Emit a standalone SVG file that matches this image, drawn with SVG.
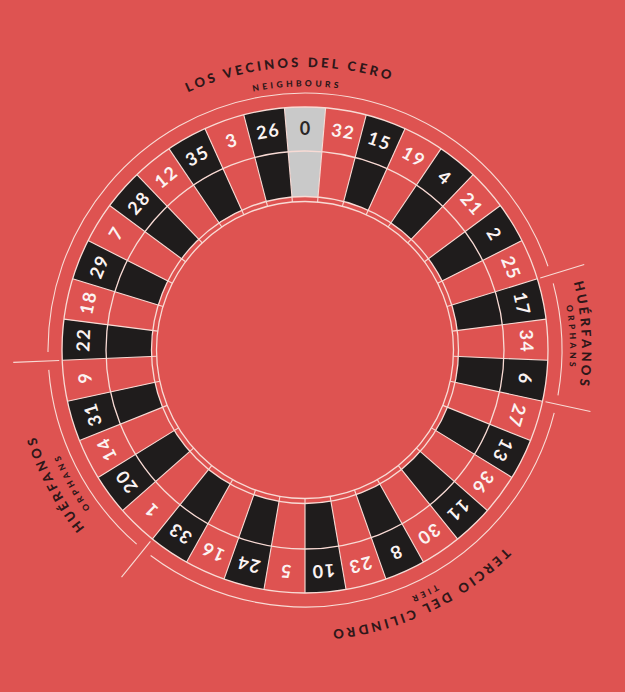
<svg xmlns="http://www.w3.org/2000/svg" width="625" height="692" viewBox="0 0 625 692">
<style>
.bg{fill:#de5351}
.red{fill:#de5351}
.blk{fill:#1f1c1c}
.zero{fill:#c9c9c9}
.ln{fill:none;stroke:#f8dbd5;stroke-width:1.3}
.thin{fill:none;stroke:#f8dbd5;stroke-width:1.1}
.num{font-family:Lato,"Open Sans",sans-serif;font-weight:700;font-size:18px;letter-spacing:1.5px;text-anchor:middle;fill:#fbf3f2}
.dark{fill:#2a2626}
.lbl{font-family:Lato,"Open Sans",sans-serif;font-weight:900;font-size:13px;letter-spacing:3.1px;fill:#2e1719}
.sub{font-size:8.5px;letter-spacing:3.3px}
</style>
<defs>
<path id="po" d="M284.39,107.87 A243,243 0 0 1 325.61,107.87 L321.88,151.72 A199,199 0 0 0 288.12,151.72 Z"/>
<path id="pi" d="M288.12,151.72 A199,199 0 0 1 321.88,151.72 L318.02,197.05 A153.5,153.5 0 0 0 291.98,197.05 Z"/>
<line id="sep" x1="317.59" y1="202.03" x2="325.61" y2="107.87"/>
<path id="a1" d="M22.44,365.80 A283,283 0 0 1 587.56,334.20"/>
<path id="a2" d="M40.12,357.86 A265,265 0 0 1 569.88,342.14"/>
<path id="a3" d="M290.02,73.40 A277,277 0 0 1 319.98,626.60"/>
<path id="a4" d="M292.52,85.29 A265,265 0 0 1 317.48,614.71"/>
<path id="a5" d="M438.30,599.64 A283,283 0 0 1 171.70,100.36"/>
<path id="a6" d="M436.48,582.39 A267,267 0 0 1 173.52,117.61"/>
<path id="a7" d="M560.61,229.72 A282.5,282.5 0 0 1 49.39,470.28"/>
<path id="a8" d="M547.67,231.64 A270,270 0 0 1 62.33,468.36"/>
</defs>
<rect class="bg" x="0" y="0" width="625" height="692"/>
<g id="wheel">
<g id="p0"><use href="#po" class="zero"/><use href="#pi" class="zero"/><text class="num dark" x="305.75" y="134.5">0</text></g>
<g id="p32" transform="rotate(9.7297 305 350)"><use href="#po" class="red"/><use href="#pi" class="red"/><text class="num" x="305.75" y="134.5">32</text></g>
<g id="p15" transform="rotate(19.4595 305 350)"><use href="#po" class="blk"/><use href="#pi" class="blk"/><text class="num" x="305.75" y="134.5">15</text></g>
<g id="p19" transform="rotate(29.1892 305 350)"><use href="#po" class="red"/><use href="#pi" class="red"/><text class="num" x="305.75" y="134.5">19</text></g>
<g id="p4" transform="rotate(38.9189 305 350)"><use href="#po" class="blk"/><use href="#pi" class="blk"/><text class="num" x="305.75" y="134.5">4</text></g>
<g id="p21" transform="rotate(48.6486 305 350)"><use href="#po" class="red"/><use href="#pi" class="red"/><text class="num" x="305.75" y="134.5">21</text></g>
<g id="p2" transform="rotate(58.3784 305 350)"><use href="#po" class="blk"/><use href="#pi" class="blk"/><text class="num" x="305.75" y="134.5">2</text></g>
<g id="p25" transform="rotate(68.1081 305 350)"><use href="#po" class="red"/><use href="#pi" class="red"/><text class="num" x="305.75" y="134.5">25</text></g>
<g id="p17" transform="rotate(77.8378 305 350)"><use href="#po" class="blk"/><use href="#pi" class="blk"/><text class="num" x="305.75" y="134.5">17</text></g>
<g id="p34" transform="rotate(87.5676 305 350)"><use href="#po" class="red"/><use href="#pi" class="red"/><text class="num" x="305.75" y="134.5">34</text></g>
<g id="p6" transform="rotate(97.2973 305 350)"><use href="#po" class="blk"/><use href="#pi" class="blk"/><text class="num" x="305.75" y="134.5">6</text></g>
<g id="p27" transform="rotate(107.027 305 350)"><use href="#po" class="red"/><use href="#pi" class="red"/><text class="num" x="305.75" y="134.5">27</text></g>
<g id="p13" transform="rotate(116.7568 305 350)"><use href="#po" class="blk"/><use href="#pi" class="blk"/><text class="num" x="305.75" y="134.5">13</text></g>
<g id="p36" transform="rotate(126.4865 305 350)"><use href="#po" class="red"/><use href="#pi" class="red"/><text class="num" x="305.75" y="134.5">36</text></g>
<g id="p11" transform="rotate(136.2162 305 350)"><use href="#po" class="blk"/><use href="#pi" class="blk"/><text class="num" x="305.75" y="134.5">11</text></g>
<g id="p30" transform="rotate(145.9459 305 350)"><use href="#po" class="red"/><use href="#pi" class="red"/><text class="num" x="305.75" y="134.5">30</text></g>
<g id="p8" transform="rotate(155.6757 305 350)"><use href="#po" class="blk"/><use href="#pi" class="blk"/><text class="num" x="305.75" y="134.5">8</text></g>
<g id="p23" transform="rotate(165.4054 305 350)"><use href="#po" class="red"/><use href="#pi" class="red"/><text class="num" x="305.75" y="134.5">23</text></g>
<g id="p10" transform="rotate(175.1351 305 350)"><use href="#po" class="blk"/><use href="#pi" class="blk"/><text class="num" x="305.75" y="134.5">10</text></g>
<g id="p5" transform="rotate(184.8649 305 350)"><use href="#po" class="red"/><use href="#pi" class="red"/><text class="num" x="305.75" y="134.5">5</text></g>
<g id="p24" transform="rotate(194.5946 305 350)"><use href="#po" class="blk"/><use href="#pi" class="blk"/><text class="num" x="305.75" y="134.5">24</text></g>
<g id="p16" transform="rotate(204.3243 305 350)"><use href="#po" class="red"/><use href="#pi" class="red"/><text class="num" x="305.75" y="134.5">16</text></g>
<g id="p33" transform="rotate(214.0541 305 350)"><use href="#po" class="blk"/><use href="#pi" class="blk"/><text class="num" x="305.75" y="134.5">33</text></g>
<g id="p1" transform="rotate(223.7838 305 350)"><use href="#po" class="red"/><use href="#pi" class="red"/><text class="num" x="305.75" y="134.5">1</text></g>
<g id="p20" transform="rotate(233.5135 305 350)"><use href="#po" class="blk"/><use href="#pi" class="blk"/><text class="num" x="305.75" y="134.5">20</text></g>
<g id="p14" transform="rotate(243.2432 305 350)"><use href="#po" class="red"/><use href="#pi" class="red"/><text class="num" x="305.75" y="134.5">14</text></g>
<g id="p31" transform="rotate(252.973 305 350)"><use href="#po" class="blk"/><use href="#pi" class="blk"/><text class="num" x="305.75" y="134.5">31</text></g>
<g id="p9" transform="rotate(262.7027 305 350)"><use href="#po" class="red"/><use href="#pi" class="red"/><text class="num" x="305.75" y="134.5">9</text></g>
<g id="p22" transform="rotate(272.4324 305 350)"><use href="#po" class="blk"/><use href="#pi" class="blk"/><text class="num" x="305.75" y="134.5">22</text></g>
<g id="p18" transform="rotate(282.1622 305 350)"><use href="#po" class="red"/><use href="#pi" class="red"/><text class="num" x="305.75" y="134.5">18</text></g>
<g id="p29" transform="rotate(291.8919 305 350)"><use href="#po" class="blk"/><use href="#pi" class="blk"/><text class="num" x="305.75" y="134.5">29</text></g>
<g id="p7" transform="rotate(301.6216 305 350)"><use href="#po" class="red"/><use href="#pi" class="red"/><text class="num" x="305.75" y="134.5">7</text></g>
<g id="p28" transform="rotate(311.3514 305 350)"><use href="#po" class="blk"/><use href="#pi" class="blk"/><text class="num" x="305.75" y="134.5">28</text></g>
<g id="p12" transform="rotate(321.0811 305 350)"><use href="#po" class="red"/><use href="#pi" class="red"/><text class="num" x="305.75" y="134.5">12</text></g>
<g id="p35" transform="rotate(330.8108 305 350)"><use href="#po" class="blk"/><use href="#pi" class="blk"/><text class="num" x="305.75" y="134.5">35</text></g>
<g id="p3" transform="rotate(340.5405 305 350)"><use href="#po" class="red"/><use href="#pi" class="red"/><text class="num" x="305.75" y="134.5">3</text></g>
<g id="p26" transform="rotate(350.2703 305 350)"><use href="#po" class="blk"/><use href="#pi" class="blk"/><text class="num" x="305.75" y="134.5">26</text></g>
</g>
<g id="rings" class="ln">
<circle cx="305" cy="350" r="243"/>
<circle cx="305" cy="350" r="199"/>
<circle cx="305" cy="350" r="153.5"/>
<circle cx="305" cy="350" r="148.5"/>
</g>
<g id="separators" class="thin">
<use href="#sep"/>
<use href="#sep" transform="rotate(9.7297 305 350)"/>
<use href="#sep" transform="rotate(19.4595 305 350)"/>
<use href="#sep" transform="rotate(29.1892 305 350)"/>
<use href="#sep" transform="rotate(38.9189 305 350)"/>
<use href="#sep" transform="rotate(48.6486 305 350)"/>
<use href="#sep" transform="rotate(58.3784 305 350)"/>
<use href="#sep" transform="rotate(68.1081 305 350)"/>
<use href="#sep" transform="rotate(77.8378 305 350)"/>
<use href="#sep" transform="rotate(87.5676 305 350)"/>
<use href="#sep" transform="rotate(97.2973 305 350)"/>
<use href="#sep" transform="rotate(107.027 305 350)"/>
<use href="#sep" transform="rotate(116.7568 305 350)"/>
<use href="#sep" transform="rotate(126.4865 305 350)"/>
<use href="#sep" transform="rotate(136.2162 305 350)"/>
<use href="#sep" transform="rotate(145.9459 305 350)"/>
<use href="#sep" transform="rotate(155.6757 305 350)"/>
<use href="#sep" transform="rotate(165.4054 305 350)"/>
<use href="#sep" transform="rotate(175.1351 305 350)"/>
<use href="#sep" transform="rotate(184.8649 305 350)"/>
<use href="#sep" transform="rotate(194.5946 305 350)"/>
<use href="#sep" transform="rotate(204.3243 305 350)"/>
<use href="#sep" transform="rotate(214.0541 305 350)"/>
<use href="#sep" transform="rotate(223.7838 305 350)"/>
<use href="#sep" transform="rotate(233.5135 305 350)"/>
<use href="#sep" transform="rotate(243.2432 305 350)"/>
<use href="#sep" transform="rotate(252.973 305 350)"/>
<use href="#sep" transform="rotate(262.7027 305 350)"/>
<use href="#sep" transform="rotate(272.4324 305 350)"/>
<use href="#sep" transform="rotate(282.1622 305 350)"/>
<use href="#sep" transform="rotate(291.8919 305 350)"/>
<use href="#sep" transform="rotate(301.6216 305 350)"/>
<use href="#sep" transform="rotate(311.3514 305 350)"/>
<use href="#sep" transform="rotate(321.0811 305 350)"/>
<use href="#sep" transform="rotate(330.8108 305 350)"/>
<use href="#sep" transform="rotate(340.5405 305 350)"/>
<use href="#sep" transform="rotate(350.2703 305 350)"/>
</g>
<g id="connectors" class="thin">
<path d="M48.01,351.93 A257,257 0 0 1 547.95,266.20"/>
<path d="M553.21,283.35 A257,257 0 0 1 557.97,395.33"/>
<path d="M554.19,412.87 A257,257 0 0 1 150.62,555.47"/>
<path d="M136.65,544.19 A257,257 0 0 1 48.77,369.85"/>
<line x1="540.21" y1="277.96" x2="584.20" y2="264.49"/>
<line x1="545.48" y1="401.82" x2="590.45" y2="411.51"/>
<line x1="150.42" y1="541.37" x2="121.52" y2="577.15"/>
<line x1="59.22" y1="360.43" x2="13.26" y2="362.38"/>
</g>
<g id="label-vecinos">
<text class="lbl"><textPath href="#a1" startOffset="50%" text-anchor="middle">LOS VECINOS DEL CERO</textPath></text>
<text class="lbl sub"><textPath href="#a2" startOffset="50%" text-anchor="middle">NEIGHBOURS</textPath></text>
</g>
<g id="label-huerfanos-right">
<text class="lbl"><textPath href="#a3" startOffset="50%" text-anchor="middle">HUÉRFANOS</textPath></text>
<text class="lbl sub"><textPath href="#a4" startOffset="50%" text-anchor="middle">ORPHANS</textPath></text>
</g>
<g id="label-huerfanos-left">
<text class="lbl"><textPath href="#a5" startOffset="50%" text-anchor="middle">HUÉRFANOS</textPath></text>
<text class="lbl sub"><textPath href="#a6" startOffset="50%" text-anchor="middle">ORPHANS</textPath></text>
</g>
<g id="label-tercio">
<text class="lbl"><textPath href="#a7" startOffset="50%" text-anchor="middle">TERCIO DEL CILINDRO</textPath></text>
<text class="lbl sub"><textPath href="#a8" startOffset="50%" text-anchor="middle">TIER</textPath></text>
</g>
</svg>
